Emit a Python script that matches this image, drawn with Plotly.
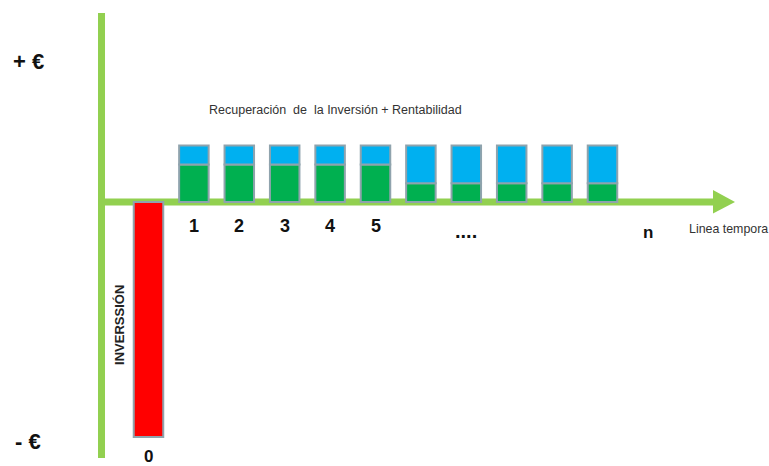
import plotly.graph_objects as go

# Periods and cash flows (arbitrary units, investment = 100)
periodo_inversion = [0]
inversion = [-100]

periodos = [1, 2, 3, 4, 5, 6, 7, 8, 9, 10]
recuperacion = [16, 16, 16, 16, 16, 8, 8, 8, 8, 8]
rentabilidad = [8, 8, 8, 8, 8, 16, 16, 16, 16, 16]

# Time-line labels under the axis
etiquetas = ["1", "2", "3", "4", "5", "....", "n"]
etiquetas_x = [1, 2, 3, 4, 5, 7, 11]

VERDE_EJE = "#92D050"
BORDE = "#8FA3AD"
FUENTE = "Arial, Liberation Sans, sans-serif"

fig = go.Figure()

fig.add_trace(go.Bar(
    x=periodo_inversion, y=inversion, width=0.65,
    marker=dict(color="#FF0000", line=dict(color=BORDE, width=2)),
    showlegend=False, hoverinfo="skip",
))
fig.add_trace(go.Bar(
    x=periodos, y=recuperacion, width=0.65,
    marker=dict(color="#00B050", line=dict(color=BORDE, width=2)),
    showlegend=False, hoverinfo="skip",
))
fig.add_trace(go.Bar(
    x=periodos, y=rentabilidad, width=0.65,
    marker=dict(color="#00B0F0", line=dict(color=BORDE, width=2)),
    showlegend=False, hoverinfo="skip",
))

# Axes drawn as thick green lines with an arrow head on the time line
x_eje = -1.035
shapes = [
    dict(type="line", xref="x", yref="y", x0=x_eje, x1=x_eje, y0=-108.9, y1=80.4,
         line=dict(color=VERDE_EJE, width=7), layer="below"),
    dict(type="line", xref="x", yref="y", x0=x_eje - 0.077, x1=12.45, y0=0, y1=0,
         line=dict(color=VERDE_EJE, width=7), layer="below"),
    dict(type="path", xref="x", yref="y",
         path="M 12.434,5.1 L 12.919,0 L 12.434,-4.9 Z",
         fillcolor=VERDE_EJE, line=dict(width=0), layer="below"),
]

annotations = []
for txt, xv in zip(etiquetas, etiquetas_x):
    yv, sz = -10.0, 18
    if txt == "....":
        yv, sz = -12.3, 20
    elif txt == "n":
        yv, sz = -12.8, 17
    annotations.append(dict(x=xv, y=yv, xref="x", yref="y", text=f"<b>{txt}</b>",
                            showarrow=False, font=dict(family=FUENTE, size=sz, color="#111")))

annotations += [
    dict(x=0, y=-108.3, xref="x", yref="y", text="<b>0</b>", showarrow=False,
         font=dict(family=FUENTE, size=17, color="#111")),
    dict(x=11.86, y=-11.6, xref="x", yref="y", text="Linea tempora", showarrow=False,
         xanchor="left", font=dict(family=FUENTE, size=12.4, color="#333")),
    dict(x=1.288, y=39.1, xref="x", yref="y",
         text="Recuperación&nbsp; de&nbsp; la Inversión + Rentabilidad", showarrow=False,
         xanchor="left", font=dict(family=FUENTE, size=12.5, color="#333")),
    dict(x=-0.628, y=-52.3, xref="x", yref="y", text="<b>INVERSSIÓN</b>", showarrow=False,
         textangle=-90, font=dict(family=FUENTE, size=13, color="#222")),
    dict(x=-2.65, y=59.8, xref="x", yref="y", text="<b>+ €</b>", showarrow=False,
         font=dict(family=FUENTE, size=22, color="#111")),
    dict(x=-2.65, y=-101.7, xref="x", yref="y", text="<b>- €</b>", showarrow=False,
         font=dict(family=FUENTE, size=22, color="#111")),
]

fig.update_layout(
    width=769, height=466,
    margin=dict(l=0, r=0, t=0, b=0),
    paper_bgcolor="white", plot_bgcolor="white",
    barmode="relative",
    xaxis=dict(visible=False, range=[-3.2709, 13.6674], fixedrange=True),
    yaxis=dict(visible=False, range=[-112.34, 85.957], fixedrange=True),
    shapes=shapes,
    annotations=annotations,
)

fig.write_html("out.html")
